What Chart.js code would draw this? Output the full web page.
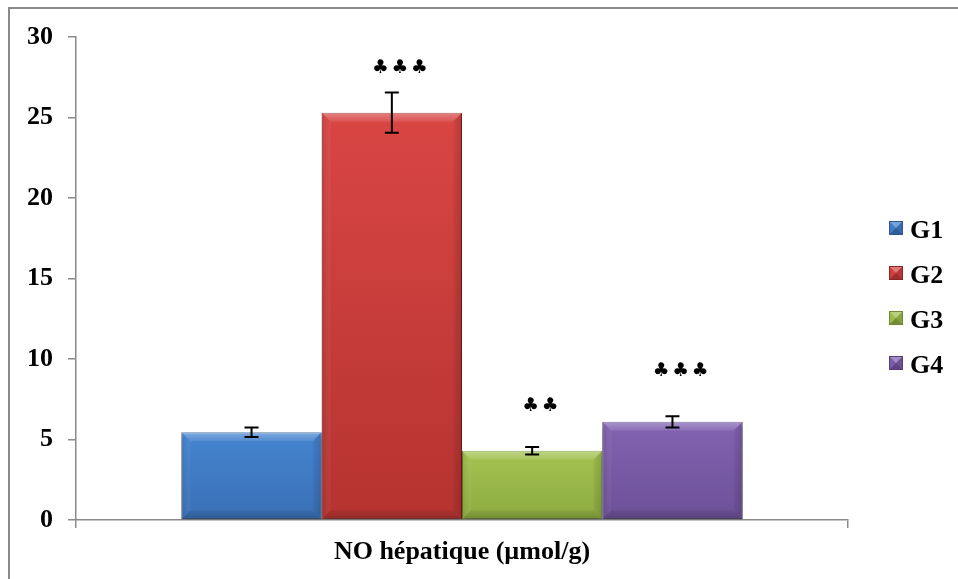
<!DOCTYPE html>
<html>
<head>
<meta charset="utf-8">
<script src="https://cdn.jsdelivr.net/npm/chart.js@4/dist/chart.umd.min.js"></script>
<style>
  html, body { margin: 0; padding: 0; background: #ffffff; }
  #wrap { width: 958px; height: 579px; position: relative; }
</style>
</head>
<body>
<div id="wrap"><canvas id="chart" width="958" height="579"></canvas></div>
<script>
// Hepatic NO per group (mean ± error)
const categories = ['NO hépatique (µmol/g)'];
const groups = ['G1', 'G2', 'G3', 'G4'];
const means = [5.45, 25.3, 4.3, 6.1];
const errors = [0.3, 1.25, 0.23, 0.35];
// significance marks and the value level they sit at
const signif = ['', '♣♣♣', '♣♣', '♣♣♣'];
const signifLevel = [0, 28.1, 7.1, 9.25];
const yMin = 0, yMax = 30, yStep = 5;

// base / top / bottom shades for each group
const palette = [
  { base: '#3f7bc6', top: '#4584d0', bottom: '#3a70b5', edge: '#2c5a94' },
  { base: '#d03f3d', top: '#d94644', bottom: '#b53330', edge: '#8f2624' },
  { base: '#9bbb4a', top: '#a3c350', bottom: '#8dab41', edge: '#6f8a30' },
  { base: '#7b5ca8', top: '#8263b2', bottom: '#6c5097', edge: '#553d78' }
];

const AXIS = '#8a8a8a';
const FONT = "'Liberation Serif', 'Times New Roman', serif";

function barGradient(ctx, i) {
  const chart = ctx.chart;
  const area = chart.chartArea;
  const p = palette[i];
  if (!area || !chart.scales.y) return p.base;
  const y = chart.scales.y;
  const top = y.getPixelForValue(means[i]);
  const bottom = y.getPixelForValue(0);
  const g = chart.ctx.createLinearGradient(0, top, 0, bottom);
  g.addColorStop(0, p.top);
  g.addColorStop(1, p.bottom);
  return g;
}

function polygon(ctx, pts, fill) {
  ctx.beginPath();
  ctx.moveTo(pts[0][0], pts[0][1]);
  for (let k = 1; k < pts.length; k++) ctx.lineTo(pts[k][0], pts[k][1]);
  ctx.closePath();
  ctx.fillStyle = fill;
  ctx.fill();
}

const decor = {
  id: 'decor',
  beforeDraw(chart) {
    const ctx = chart.ctx;
    ctx.save();
    ctx.fillStyle = '#ffffff';
    ctx.fillRect(0, 0, chart.width, chart.height);
    ctx.strokeStyle = AXIS;
    ctx.lineWidth = 2;
    ctx.strokeRect(9, 8, chart.width + 40, chart.height + 40);
    ctx.restore();
  },
  beforeDatasetsDraw(chart) {
    const ctx = chart.ctx;
    ctx.save();
    ctx.shadowColor = 'rgba(0,0,0,0.4)';
    ctx.shadowBlur = 5;
    ctx.shadowOffsetX = 1;
    ctx.shadowOffsetY = 3;
  },
  afterDatasetsDraw(chart) {
    const ctx = chart.ctx;
    ctx.restore();
    const yScale = chart.scales.y;

    chart.data.datasets.forEach((ds, i) => {
      const el = chart.getDatasetMeta(i).data[0];
      const { x, y, base, width } = el.getProps(['x', 'y', 'base', 'width'], true);
      const L = x - width / 2, R = x + width / 2, T = y, B = base;
      const b = 9;

      // soft bevel faces
      ctx.save();
      const gt = ctx.createLinearGradient(0, T, 0, T + b);
      gt.addColorStop(0, 'rgba(255,255,255,0.32)');
      gt.addColorStop(1, 'rgba(255,255,255,0.08)');
      polygon(ctx, [[L, T], [R, T], [R - b, T + b], [L + b, T + b]], gt);
      const gl = ctx.createLinearGradient(L, 0, L + b, 0);
      gl.addColorStop(0, 'rgba(0,0,0,0.10)');
      gl.addColorStop(1, 'rgba(255,255,255,0.04)');
      polygon(ctx, [[L, T], [L + b, T + b], [L + b, B - b], [L, B]], gl);
      const gr = ctx.createLinearGradient(R - b, 0, R, 0);
      gr.addColorStop(0, 'rgba(0,0,0,0.04)');
      gr.addColorStop(1, 'rgba(0,0,0,0.16)');
      polygon(ctx, [[R, T], [R, B], [R - b, B - b], [R - b, T + b]], gr);
      const gb = ctx.createLinearGradient(0, B - b, 0, B);
      gb.addColorStop(0, 'rgba(0,0,0,0.05)');
      gb.addColorStop(1, 'rgba(0,0,0,0.2)');
      polygon(ctx, [[L, B], [L + b, B - b], [R - b, B - b], [R, B]], gb);
      ctx.restore();

      // error bar
      const hi = yScale.getPixelForValue(means[i] + errors[i]);
      const lo = yScale.getPixelForValue(means[i] - errors[i]);
      ctx.save();
      ctx.strokeStyle = '#000000';
      ctx.lineWidth = 2;
      ctx.beginPath();
      ctx.moveTo(x, hi); ctx.lineTo(x, lo);
      ctx.moveTo(x - 7, hi); ctx.lineTo(x + 7, hi);
      ctx.moveTo(x - 7, lo); ctx.lineTo(x + 7, lo);
      ctx.stroke();
      ctx.restore();

      // significance marks
      if (signif[i]) {
        const chars = Array.from(signif[i]);
        const sy = yScale.getPixelForValue(signifLevel[i]);
        const gap = 19.5;
        const cx = x + 8;
        ctx.save();
        ctx.fillStyle = '#000000';
        ctx.font = "19px 'DejaVu Sans'";
        ctx.textAlign = 'center';
        ctx.textBaseline = 'middle';
        chars.forEach((c, k) => {
          ctx.fillText(c, cx + (k - (chars.length - 1) / 2) * gap, sy);
        });
        ctx.restore();
      }
    });

    // legend on the right
    const lx = 889, ly0 = 231, lstep = 45, box = 14;
    chart.data.datasets.forEach((ds, i) => {
      const p = palette[i];
      const cy = ly0 + i * lstep;
      const bx = lx, by = cy - 10;
      ctx.save();
      ctx.fillStyle = p.base;
      ctx.fillRect(bx, by, box, box);
      const m = box / 2;
      polygon(ctx, [[bx, by], [bx + box, by], [bx + m, by + m]], 'rgba(255,255,255,0.3)');
      polygon(ctx, [[bx + box, by], [bx + box, by + box], [bx + m, by + m]], 'rgba(0,0,0,0.12)');
      polygon(ctx, [[bx, by + box], [bx + box, by + box], [bx + m, by + m]], 'rgba(0,0,0,0.25)');
      ctx.strokeStyle = p.edge;
      ctx.lineWidth = 1;
      ctx.strokeRect(bx + 0.5, by + 0.5, box - 1, box - 1);
      ctx.fillStyle = '#000000';
      ctx.font = 'bold 26px ' + FONT;
      ctx.textAlign = 'left';
      ctx.textBaseline = 'middle';
      ctx.fillText(ds.label, lx + 21, cy);
      ctx.restore();
    });
  }
};

const datasets = groups.map((g, i) => ({
  label: g,
  data: [means[i]],
  backgroundColor: (ctx) => barGradient(ctx, i),
  borderColor: palette[i].edge,
  borderWidth: 1,
  borderSkipped: false,
  clip: 12
}));

new Chart(document.getElementById('chart'), {
  type: 'bar',
  data: { labels: categories, datasets },
  options: {
    responsive: false,
    animation: false,
    devicePixelRatio: 1,
    layout: { padding: { top: 37, right: 110, left: 0, bottom: 0 } },
    datasets: { bar: { categoryPercentage: 0.727, barPercentage: 1.0 } },
    plugins: { legend: { display: false }, tooltip: { enabled: false } },
    scales: {
      x: {
        offset: true,
        grid: { offset: true, drawOnChartArea: false, drawTicks: true, tickLength: 8, color: AXIS, lineWidth: 1.5 },
        border: { color: AXIS, width: 1.5 },
        ticks: { color: '#000000', font: { family: FONT, size: 26, weight: 'bold' }, padding: 9, maxRotation: 0 },
        afterFit(scale) { scale.height = 59; }
      },
      y: {
        min: yMin, max: yMax,
        grid: { drawOnChartArea: false, drawTicks: true, tickLength: 8, color: AXIS, lineWidth: 1.5 },
        border: { color: AXIS, width: 1.5 },
        ticks: { stepSize: yStep, color: '#000000', font: { family: FONT, size: 26, weight: 'bold' }, padding: 15 },
        afterFit(scale) { scale.width = 76; }
      }
    }
  },
  plugins: [decor]
});
</script>
</body>
</html>
